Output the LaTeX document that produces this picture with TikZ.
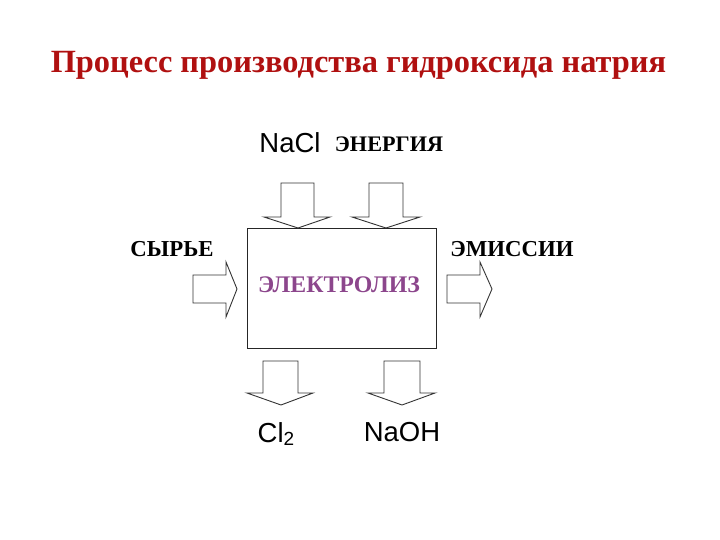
\documentclass[tikz,border=0pt]{standalone}
\usepackage{fontspec}
\setmainfont{Liberation Serif}
\newfontfamily\arialf{Liberation Sans}
\definecolor{titlered}{RGB}{176,16,16}
\definecolor{purp}{RGB}{140,70,140}
\begin{document}
\begin{tikzpicture}[x=1pt,y=-1pt,
  fat/.style={draw=black!80,line width=0.9pt,fill=white,line join=miter},
  lbl/.style={inner sep=0pt,font=\bfseries\fontsize{22.8}{26}\selectfont},
  chem/.style={inner sep=0pt,font=\arialf\fontsize{27.5}{32}\selectfont}]
\useasboundingbox (0,0) rectangle (720,540);
% title
\node[inner sep=0pt,text=titlered,font=\bfseries\fontsize{32.4}{38}\selectfont] (title) at (358.5,65) {Процесс производства гидроксида натрия};
% main box
\node[draw=black!85,line width=0.9pt,minimum width=189pt,minimum height=120pt,inner sep=0pt] (box) at (341.5,288) {};
\node[lbl,text=purp,font=\bfseries\fontsize{23.8}{27}\selectfont] (el) at (339,285) {ЭЛЕКТРОЛИЗ};
% labels
\node[chem] (nacl) at (290,143) {NaCl};
\node[lbl,font=\bfseries\fontsize{22.2}{26}\selectfont] (en) at (389,144) {ЭНЕРГИЯ};
\node[lbl] (raw) at (172,249) {СЫРЬЕ};
\node[lbl] (em) at (512,249) {ЭМИССИИ};
\node[chem] (cl) at (276,434) {Cl\raisebox{-0.25ex}{\fontsize{19}{22}\selectfont 2}};
\node[chem] (naoh) at (402,432) {NaOH};
% top arrows
\draw[fat] (281,183) -- (314,183) -- (314,217) -- (330,217) -- (298,228) -- (264,217) -- (281,217) -- cycle;
\draw[fat] (369,183) -- (403,183) -- (403,217) -- (420,217) -- (386,228) -- (352,217) -- (369,217) -- cycle;
% left arrow
\draw[fat] (193,275) -- (226,275) -- (226,262) -- (237,289) -- (226,317) -- (226,303) -- (193,303) -- cycle;
% right arrow
\draw[fat] (447,275) -- (480,275) -- (480,262) -- (492,289) -- (480,317) -- (480,303) -- (447,303) -- cycle;
% bottom arrows
\draw[fat] (263,361) -- (298,361) -- (298,393) -- (313,393) -- (281,405) -- (247,393) -- (263,393) -- cycle;
\draw[fat] (384,361) -- (420,361) -- (420,393) -- (435,393) -- (402,405) -- (368,393) -- (384,393) -- cycle;
\end{tikzpicture}
\end{document}
